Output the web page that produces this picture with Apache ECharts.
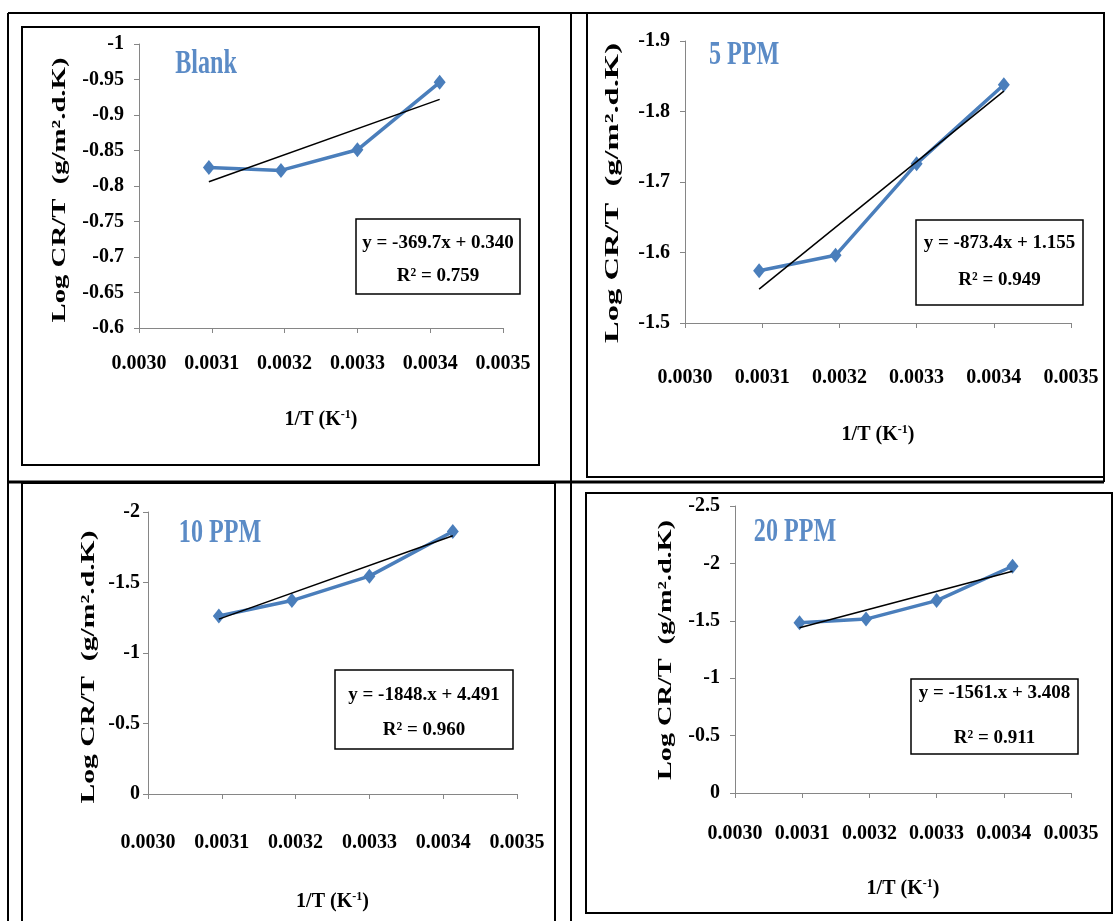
<!DOCTYPE html>
<html>
<head>
<meta charset="utf-8">
<script src="https://cdn.jsdelivr.net/npm/echarts@6/dist/echarts.min.js"></script>
<style>
html,body{margin:0;padding:0;background:#fff;}
#c{width:1116px;height:921px;}
</style>
</head>
<body>
<div id="c"></div>
<script>
// ---- data ----
const invT = [0.003096, 0.003195, 0.003300, 0.003413];
const xTicks = ['0.0030','0.0031','0.0032','0.0033','0.0034','0.0035'];
const panelNames = ['Blank', '5 PPM', '10 PPM', '20 PPM'];
const blank = [-0.826, -0.822, -0.851, -0.946];
const ppm5  = [-1.574, -1.596, -1.726, -1.838];
const ppm10 = [-1.262, -1.372, -1.545, -1.862];
const ppm20 = [-1.482, -1.515, -1.676, -1.975];
const trendBlank = [-0.806, -0.922];
const trend5  = [-1.548, -1.829];
const trend10 = [-1.240, -1.832];
const trend20 = [-1.440, -1.932];
const yTicksBlank = [-1, -0.95, -0.9, -0.85, -0.8, -0.75, -0.7, -0.65, -0.6];
const yTicks5  = [-1.9, -1.8, -1.7, -1.6, -1.5];
const yTicks10 = [-2, -1.5, -1, -0.5, 0];
const yTicks20 = [-2.5, -2, -1.5, -1, -0.5, 0];
const equations = ['y = -369.7x + 0.340', 'y = -873.4x + 1.155', 'y = -1848.x + 4.491', 'y = -1561.x + 3.408'];
const r2 = ['R² = 0.759', 'R² = 0.949', 'R² = 0.960', 'R² = 0.911'];
const xTitle = '1/T (K{sup|-1})';
const yTitle = 'Log CR/T  (g/m².d.K)';

const seriesData = [blank, ppm5, ppm10, ppm20];
const trendData = [trendBlank, trend5, trend10, trend20];
const yTicks = [yTicksBlank, yTicks5, yTicks10, yTicks20];

// ---- layout ----
const FONT = 'Liberation Serif';
const BLUE = '#4A7EBB';
const grids = [
  {left:139, top:44, width:364, height:284},
  {left:685, top:41, width:386, height:282},
  {left:148, top:512, width:369, height:282},
  {left:735, top:506, width:336, height:287}
];
const xLabelMargin = [26, 45, 39, 31];
const xNameGap = [81, 101, 97, 85];
const yLabelMargin = [15, 15, 8, 15];
// y-title: center x, center y, length
const yTitlePos = [[60,190,265],[613,193,300],[89,667,273],[666,650,260]];
const titlePos = [[206,64],[744,55],[220,533],[795,532]];
const boxes = [
  {x:356, y:219, w:164, h:75, l1:243, l2:276},
  {x:916, y:220, w:167, h:85, l1:243, l2:280},
  {x:335, y:670, w:178, h:79, l1:695, l2:730},
  {x:911, y:679, w:167, h:75, l1:693, l2:738}
];

const fmt = v => String(parseFloat(v.toFixed(3)));

const xAxes = [], yAxes = [], series = [];
for (let i = 0; i < 4; i++) {
  xAxes.push({
    type:'value', gridIndex:i,
    min: parseFloat(xTicks[0]), max: parseFloat(xTicks[xTicks.length-1]), interval: 0.0001,
    axisLine:{show:true, onZero:false, lineStyle:{color:'#868686', width:1}},
    axisTick:{show:true, inside:false, length:5, lineStyle:{color:'#868686'}},
    splitLine:{show:false},
    axisLabel:{margin:xLabelMargin[i], color:'#000', fontFamily:FONT, fontWeight:'bold', fontSize:20,
      formatter: v => v.toFixed(4)},
    name:xTitle, nameLocation:'middle', nameGap:xNameGap[i], nameMoveOverlap:false,
    nameTextStyle:{color:'#000', fontFamily:FONT, fontWeight:'bold', fontSize:20,
      rich:{sup:{fontSize:12, fontFamily:FONT, fontWeight:'bold', color:'#000', verticalAlign:'top', padding:[0,0,9,0]}}}
  });
  const yt = yTicks[i];
  yAxes.push({
    type:'value', gridIndex:i, inverse:true,
    min: yt[0], max: yt[yt.length-1], interval: Math.abs(yt[1]-yt[0]),
    axisLine:{show:true, onZero:false, lineStyle:{color:'#868686', width:1}},
    axisTick:{show:true, inside:false, length:5, lineStyle:{color:'#868686'}},
    splitLine:{show:false},
    axisLabel:{margin:yLabelMargin[i], color:'#000', fontFamily:FONT, fontWeight:'bold', fontSize:20, formatter: fmt}
  });
  series.push({
    type:'line', xAxisIndex:i, yAxisIndex:i,
    data: invT.map((x,k)=>[x, seriesData[i][k]]),
    symbol:'diamond', symbolSize:[12,15],
    lineStyle:{color:BLUE, width:3.5}, itemStyle:{color:BLUE},
    z:3, animation:false
  });
  series.push({
    type:'line', xAxisIndex:i, yAxisIndex:i,
    data: [[invT[0], trendData[i][0]], [invT[3], trendData[i][1]]],
    symbol:'none', lineStyle:{color:'#000', width:1.5}, z:4, animation:false
  });
}

// measure y-title width to stretch it along its reading direction
const mctx = document.createElement('canvas').getContext('2d');
mctx.font = 'bold 19px "Liberation Serif"';
const yTitleW = mctx.measureText(yTitle).width;

const graphics = [];
// table lines
const tl = (x1,y1,x2,y2,w,c)=>graphics.push({type:'line', shape:{x1,y1,x2,y2}, style:{stroke:c||'#000', lineWidth:w||2}, z:1});
tl(8,13,1104,13); tl(8,13,8,921); tl(1104,13,1104,482); tl(571,13,571,921); tl(8,482,1104,482,3);
// panel frames
const fr = (x,y,w,h,c)=>graphics.push({type:'rect', shape:{x,y,width:w,height:h}, style:{fill:null, stroke:c||'#000', lineWidth:2}, z:1});
fr(22,27,517,438); fr(587,13,517,464); fr(22,483,533,440); fr(586,493,526,420);
for (let i = 0; i < 4; i++) {
  graphics.push({type:'text', x:titlePos[i][0], y:titlePos[i][1], scaleX:0.73, z:5,
    style:{text:panelNames[i], fill:'#5B8BC6', font:'bold 33px "Liberation Serif"', textAlign:'center', textVerticalAlign:'middle'}});
  const p = yTitlePos[i];
  graphics.push({type:'text', x:p[0], y:p[1], rotation:Math.PI/2, scaleX:p[2]/yTitleW, z:5,
    style:{text:yTitle, fill:'#000', font:'bold 19px "Liberation Serif"', textAlign:'center', textVerticalAlign:'middle'}});
  const b = boxes[i];
  graphics.push({type:'rect', shape:{x:b.x, y:b.y, width:b.w, height:b.h}, style:{fill:'#fff', stroke:'#000', lineWidth:1.5}, z:10});
  graphics.push({type:'text', x:b.x+b.w/2, y:b.l1, z:11,
    style:{text:equations[i], fill:'#000', font:'bold 19px "Liberation Serif"', textAlign:'center', textVerticalAlign:'middle'}});
  graphics.push({type:'text', x:b.x+b.w/2, y:b.l2, z:11,
    style:{text:r2[i], fill:'#000', font:'bold 19px "Liberation Serif"', textAlign:'center', textVerticalAlign:'middle'}});
}

const chart = echarts.init(document.getElementById('c'), null, {renderer:'canvas'});
chart.setOption({
  backgroundColor:'#fff',
  animation:false,
  grid: grids,
  xAxis: xAxes,
  yAxis: yAxes,
  series: series,
  graphic: graphics
});
</script>
</body>
</html>
